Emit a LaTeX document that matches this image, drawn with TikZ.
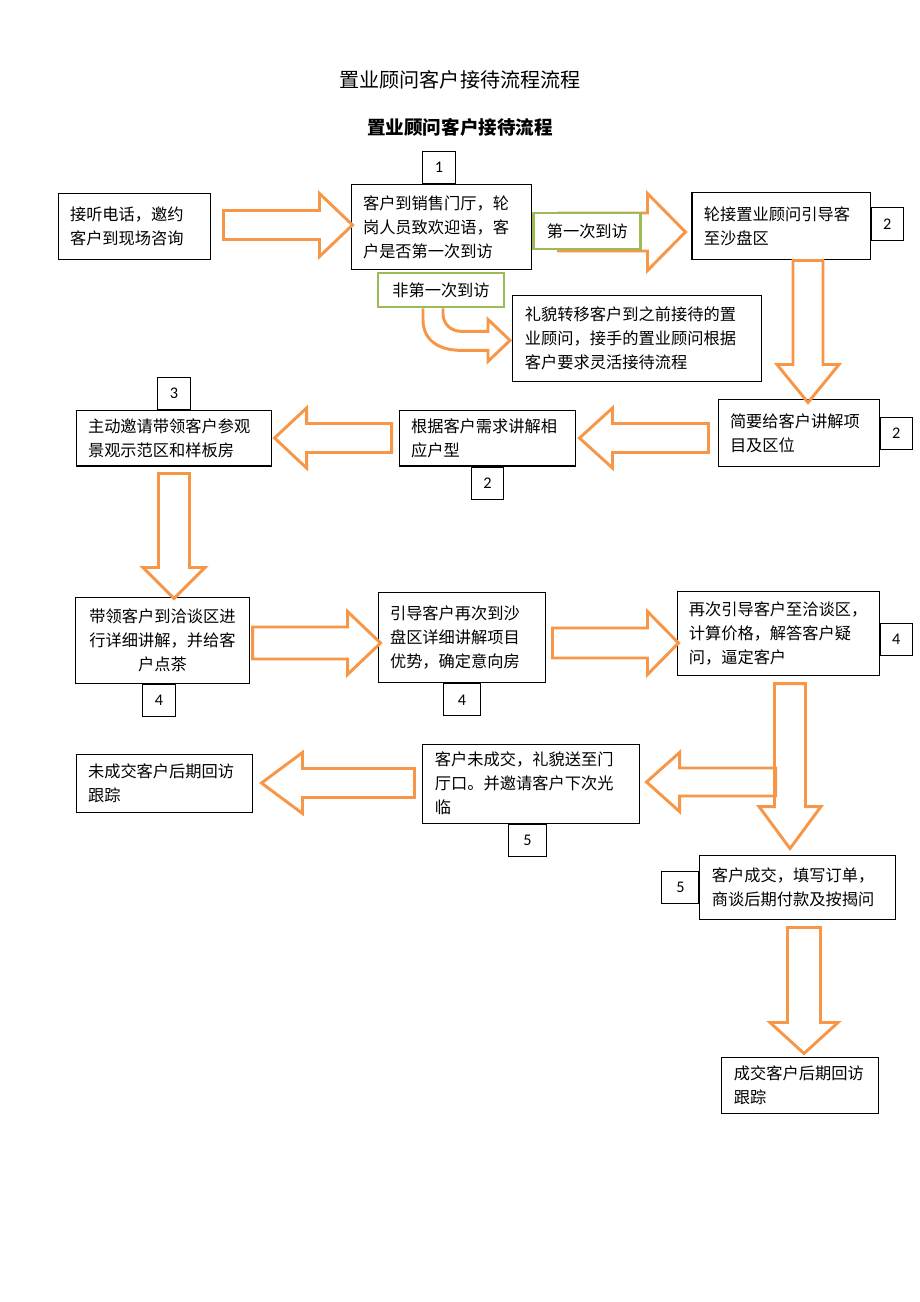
\documentclass[tikz,border=0pt]{standalone}
\usepackage{fontspec}
\setmainfont{Noto Sans CJK SC}
\newfontfamily\numfont{Carlito}
\usetikzlibrary{positioning,calc}
\definecolor{arr_orange}{HTML}{F79646}
\definecolor{box_green}{HTML}{9BBB59}

\begin{document}
\begin{tikzpicture}[x=0.6467pt,y=-0.6467pt,node distance=0pt]
	\tikzstyle{rect_b}=[draw, rectangle, line width=0.65pt, fill=white, inner xsep=7.76pt, inner ysep=0pt, align=left, font=\fontsize{10.5}{15.5}\selectfont]
	\tikzstyle{rect_g}=[draw=box_green, rectangle, line width=1.8pt, fill=white, inner sep=0pt, font=\fontsize{10.5}{15.5}\selectfont]
	\tikzstyle{num_b}=[draw, rectangle, line width=0.65pt, fill=white, minimum width=21pt, minimum height=20.7pt, inner sep=0pt, font=\numfont\fontsize{10.5}{12}\selectfont]
	\tikzstyle{arr_line}=[draw=arr_orange, line width=1.9pt, line join=miter]
	\tikzset{pics/big_arr/.style n args={4}{code={
		\draw[arr_line] (0,-#2) -- (#1-#4,-#2) -- (#1-#4,-#3) -- (#1,0) -- (#1-#4,#3) -- (#1-#4,#2) -- (0,#2) -- cycle;
	}}}
	\useasboundingbox (0,0) rectangle (920,1302);

	\node[font=\fontsize{13}{15}\selectfont] (title) at (460,80) {置业顾问客户接待流程流程};
	\node[font=\bfseries\fontsize{12}{14}\selectfont] (subtitle) at (460,127) {置业顾问客户接待流程};

	% boxes
	\node[rect_b, text width=83.4pt, minimum height=43.3pt] (b1) at (134.5,226.5) {接听电话，邀约\\客户到现场咨询};
	\node[rect_b, text width=101.5pt, minimum height=55.6pt] (b2) at (441.5,227) {客户到销售门厅，轮\\岗人员致欢迎语，客\\户是否第一次到访};
	\node[rect_b, text width=144.9pt, minimum height=55pt] (b3) at (637,338.5) {礼貌转移客户到之前接待的置\\业顾问，接手的置业顾问根据\\客户要求灵活接待流程};
	\node[rect_b, text width=99.6pt, minimum height=42.7pt] (b4) at (781,226) {轮接置业顾问引导客\\至沙盘区};
	\node[rect_b, text width=88.6pt, minimum height=42.7pt] (b5) at (798.5,433) {简要给客户讲解项\\目及区位};
	\node[rect_b, text width=98.9pt, minimum height=36.2pt] (b6) at (487.5,438) {根据客户需求讲解相\\应户型};
	\node[rect_b, text width=111.2pt, minimum height=36.2pt] (b7) at (174,438) {主动邀请带领客户参观\\景观示范区和样板房};
	\node[rect_b, text width=96.4pt, minimum height=55pt, align=center] (b8) at (162.5,640.5) {带领客户到洽谈区进\\行详细讲解，并给客\\户点茶};
	\node[rect_b, text width=93.1pt, minimum height=58.8pt] (b9) at (462,637.5) {引导客户再次到沙\\盘区详细讲解项目\\优势，确定意向房};
	\node[rect_b, text width=116pt, minimum height=53.7pt, inner xsep=7pt] (b10) at (778.5,633.5) {再次引导客户至洽谈区，\\计算价格，解答客户疑\\问，逼定客户};
	\node[rect_b, text width=124.2pt, minimum height=51.1pt] (b11) at (531,783.5) {客户未成交，礼貌送至门\\厅口。并邀请客户下次光\\临};
	\node[rect_b, text width=110.6pt, minimum height=42pt] (b12) at (797.5,887.5) {客户成交，填写订单，\\商谈后期付款及按揭问};
	\node[rect_b, text width=85.4pt, minimum height=35.6pt] (b13) at (800,1085.5) {成交客户后期回访\\跟踪};
	\node[rect_b, text width=98.9pt, minimum height=37.5pt] (b14) at (164.5,783) {未成交客户后期回访\\跟踪};

	% step numbers
	\node[num_b] (n1) [above=of b2, xshift=-1.6pt] {1};
	\node[num_b] (n2) [right=of b4, yshift=1.3pt] {2};
	\node[num_b] (n3) [right=of b5] {2};
	\node[num_b] (n4) [below=of b6] {2};
	\node[num_b] (n5) [above=of b7] {3};
	\node[num_b] (n6) [below=of b8, xshift=-2.3pt] {4};
	\node[num_b, minimum width=24pt] (n7) [below=of b9] {4};
	\node[num_b] (n8) [right=of b10, yshift=-3.9pt] {4};
	\node[num_b, minimum width=24pt] (n9) [below=of b11, xshift=-2.3pt] {5};
	\node[num_b, minimum width=24pt] (n10) [left=of b12] {5};

	% big arrows
	\pic at ($(b1.east)+(12,-1.5)$) {big_arr={129}{14.5}{31.5}{33}};
	\pic at ($(b2.east)+(26,5)$) {big_arr={127}{19}{38.5}{38}};
	\pic[rotate=-90] at ($(b4.south)+(27,1)$) {big_arr={142}{15}{31}{38}};
	\pic[rotate=180] at ($(b5.west)+(-9,5)$) {big_arr={129}{14.5}{30}{33}};
	\pic[rotate=180] at ($(b6.west)+(-7,0)$) {big_arr={117}{14.5}{30}{32}};
	\pic[rotate=-90] at ($(b7.south)+(0,7)$) {big_arr={125}{15.5}{31}{31}};
	\pic at ($(b8.east)+(3,2.5)$) {big_arr={128}{16}{31.5}{33}};
	\pic at ($(b9.east)+(6,5.5)$) {big_arr={126}{15}{31.5}{31}};
	\pic[rotate=-90] at ($(b10.south)+(11.5,8)$) {big_arr={165}{15.5}{31}{42}};
	\pic[rotate=180] at ($(b11.east)+(136,-1.5)$) {big_arr={129}{14}{29.5}{33}};
	\pic[rotate=180] at ($(b11.west)+(-8,-0.5)$) {big_arr={153}{14.5}{30.5}{41}};
	\pic[rotate=-90] at ($(b12.south)+(6.5,7)$) {big_arr={126}{16.5}{34}{31}};

	% choice labels
	\node[rect_g, minimum width=69.2pt, minimum height=23.3pt] (g1) [right=of b2, yshift=-2.6pt] {第一次到访};
	\node[rect_g, minimum width=81.5pt, minimum height=22pt] (g2) at (441,290) {非第一次到访};
	\draw[arr_line, shift={(g2.south)}] (-18,0) -- (-18,11) .. controls (-18,33) and (-1,42) .. (21,42) -- (47,42) -- (47,53) -- (69,32) -- (47,11) -- (47,23) -- (21,23) .. controls (9,23) and (2,15) .. (2,5) -- (2,0);
\end{tikzpicture}
\end{document}
